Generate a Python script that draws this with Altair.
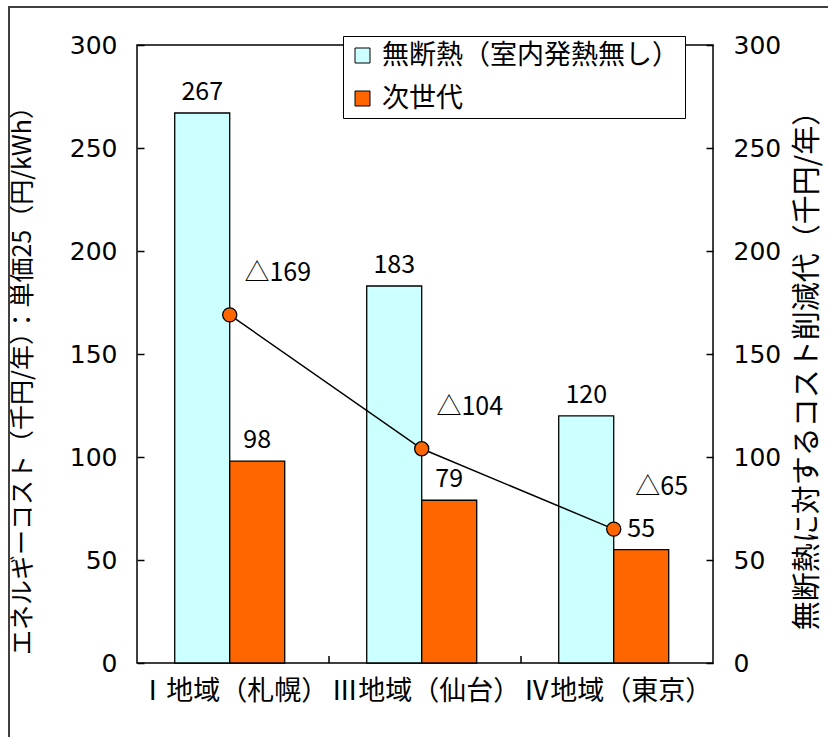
import altair as alt
import pandas as pd

categories = ["Ⅰ地域（札幌）", "Ⅲ地域（仙台）", "Ⅳ地域（東京）"]
series = ["無断熱（室内発熱無し）", "次世代"]
no_insulation = [267, 183, 120]
next_gen = [98, 79, 55]
reduction = [169, 104, 65]
y_ticks = [0, 50, 100, 150, 200, 250, 300]
colors = ["#CCFFFF", "#FF6600"]

JP = "Noto Sans CJK JP"
NUM = "DejaVu Sans"

bars_df = pd.DataFrame({
    "region": categories * 2,
    "series": [series[0]] * 3 + [series[1]] * 3,
    "value": no_insulation + next_gen,
})
line_df = pd.DataFrame({
    "region": categories,
    "reduction": reduction,
    "label": ["△" + str(v) for v in reduction],
})
dummy = pd.DataFrame({"a": [0]})

x_enc = alt.X(
    "region:N",
    sort=categories,
    scale=alt.Scale(domain=categories, paddingInner=0.427, paddingOuter=0.2135, align=0.46),
    axis=alt.Axis(title=None, ticks=False, domain=False, labelAngle=0, labelFont=JP,
                  labelFontSize=27, labelPadding=15, labelColor="black", labelLimit=400,
                  labelOffset=4),
)
xoff_enc = alt.XOffset("series:N", sort=series,
                       scale=alt.Scale(domain=series, paddingInner=0, paddingOuter=0))

y_left = alt.Y(
    "value:Q",
    scale=alt.Scale(domain=[0, 300], nice=False),
    axis=alt.Axis(values=y_ticks, orient="left", offset=-7, tickSize=7, domain=False, grid=False,
                  labelPadding=20, labelFont=NUM, labelFontSize=25, labelColor="black",
                  tickColor="black", tickWidth=1.5,
                  title="エネルギーコスト（千円/年）：単価25（円/kWh）",
                  titleX=-122, titleY=329, titleAngle=270, titleAlign="center",
                  titleBaseline="middle", titleFont=JP, titleFontSize=25,
                  titleFontWeight="normal", titleColor="black", titleLimit=800),
)
y_right = alt.Y(
    "reduction:Q",
    scale=alt.Scale(domain=[0, 300], nice=False),
    axis=alt.Axis(values=y_ticks, orient="right", offset=-7, tickSize=7, domain=False, grid=False,
                  labelPadding=20, labelFont=NUM, labelFontSize=25, labelColor="black",
                  tickColor="black", tickWidth=1.5,
                  title="無断熱に対するコスト削減代（千円/年）",
                  titleX=101, titleY=318, titleAngle=270, titleAlign="center",
                  titleBaseline="middle", titleFont=JP, titleFontSize=29,
                  titleFontWeight="normal", titleColor="black", titleLimit=800),
)

bars = alt.Chart(bars_df).mark_bar(stroke="black", strokeWidth=1.3).encode(
    x=x_enc, xOffset=xoff_enc, y=y_left,
    color=alt.Color("series:N", sort=series,
                    scale=alt.Scale(domain=series, range=colors),
                    legend=alt.Legend(title=None, orient="none", legendX=206, legendY=-9,
                                      direction="vertical", strokeColor="black",
                                      fillColor="white", padding=6, symbolType="square",
                                      symbolSize=225, symbolStrokeColor="black",
                                      symbolStrokeWidth=1, symbolOpacity=1,
                                      labelFont=JP, labelFontSize=27, labelColor="black",
                                      labelOffset=6, rowPadding=15, labelLimit=500)),
)
bar_text = alt.Chart(bars_df).mark_text(baseline="alphabetic", dy=-13, font=JP,
                                          fontSize=25, color="black").encode(
    x=x_enc, xOffset=xoff_enc, y=y_left, text="value:Q",
)
border = alt.Chart(dummy).mark_rect(fill=None, stroke="#404040", strokeWidth=2).encode(
    x=alt.value(-128), x2=alt.value(720), y=alt.value(-38), y2=alt.value(720),
)
tick1 = alt.Chart(dummy).mark_rule(color="black", strokeWidth=1.5).encode(
    x=alt.value(192), y=alt.value(611), y2=alt.value(618))
tick2 = alt.Chart(dummy).mark_rule(color="black", strokeWidth=1.5).encode(
    x=alt.value(384), y=alt.value(611), y2=alt.value(618))

left = alt.layer(border, bars, bar_text, tick1, tick2)

line = alt.Chart(line_df).mark_line(color="black", strokeWidth=1.5).encode(
    x=x_enc, y=y_right)
points = alt.Chart(line_df).mark_point(filled=True, shape="circle", size=200, fill="#FF6600",
                                       stroke="black", strokeWidth=1.3, opacity=1).encode(
    x=x_enc, y=y_right)
delta_text = alt.Chart(line_df).mark_text(baseline="alphabetic", align="center", dx=48, dy=-34,
                                            font=JP, fontSize=25, color="black").encode(
    x=x_enc, y=y_right, text="label:N")

right = alt.layer(line, points, delta_text)

chart = alt.layer(left, right).resolve_scale(y="independent").properties(
    width=576, height=618,
    autosize=alt.AutoSizeParams(type="none"),
    padding={"left": 137, "top": 45, "right": 115, "bottom": 74},
    background="white",
).configure_view(stroke="black", strokeWidth=1.5)

chart.save("out.html", embed_options={"renderer": "svg", "actions": False})
